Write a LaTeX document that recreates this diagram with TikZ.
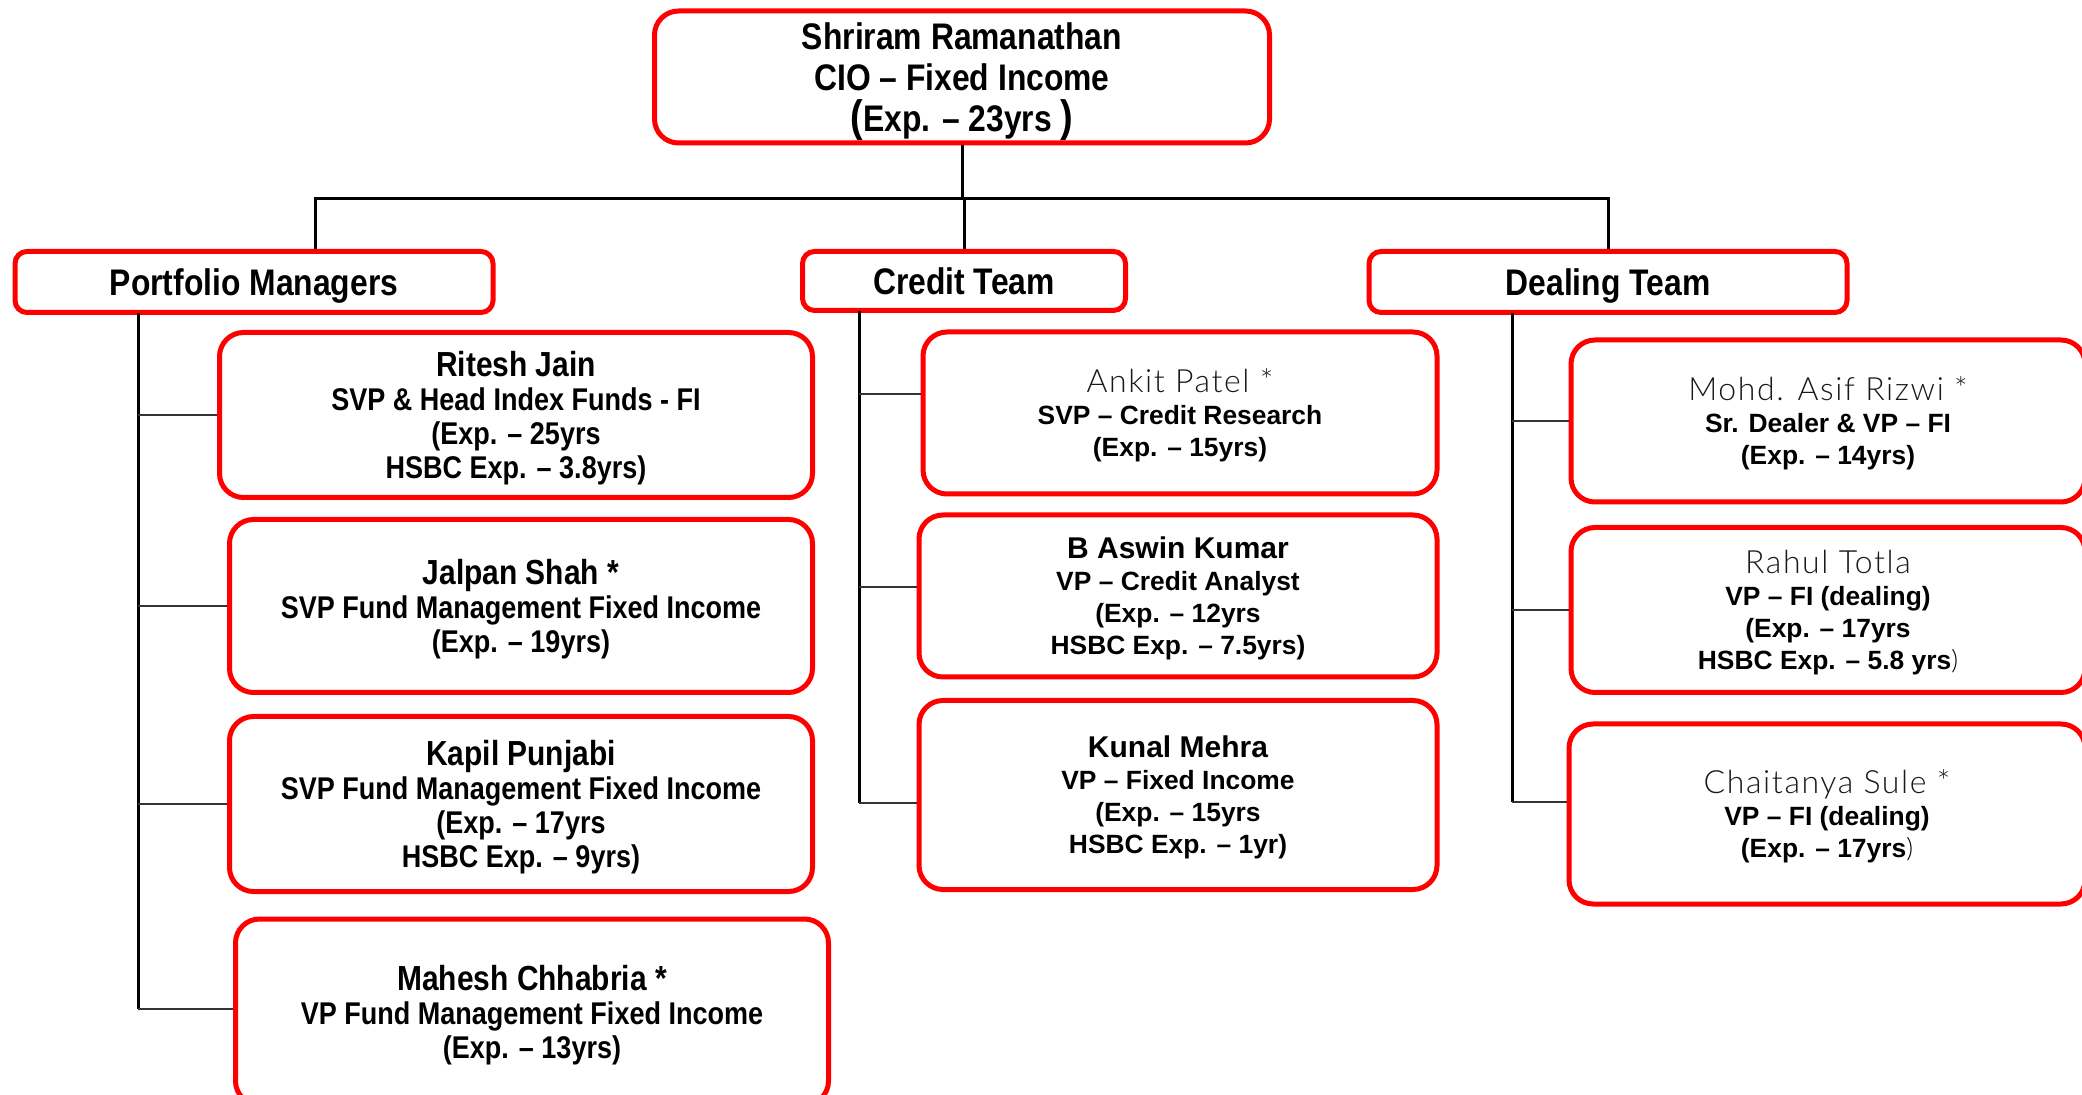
\documentclass[tikz,border=0pt]{standalone}
\usepackage{fontspec}
\setmainfont{Liberation Sans}
\newfontfamily\narrowfont{Liberation Sans}[FakeStretch=0.86]
\IfFontExistsTF{Lato Light}
  {\newfontfamily\lightfont{Lato Light}[LetterSpace=5]}
  {\newfontfamily\lightfont{Liberation Sans}[LetterSpace=5]}

\tikzset{
  box/.style={draw=red, line width=2.5pt, rounded corners=12pt, fill=white, align=center, inner sep=0pt},
  head/.style={draw=red, line width=2.5pt, rounded corners=6pt, fill=white, inner sep=0pt,
    text height=13.2pt, text depth=0pt, font=\narrowfont\bfseries\fontsize{18.5}{20.5}\selectfont},
  narrowtxt/.style={text depth=-2.5pt, font=\narrowfont\bfseries\fontsize{15.7}{17}\selectfont},
  widetxt/.style={text depth=-1.8pt, font=\bfseries\fontsize{13.2}{16}\selectfont},
  trunk/.style={black, line width=1.5pt},
  twig/.style={black!80, line width=0.9pt},
}
\newcommand{\lightname}[1]{{\mdseries\lightfont\color{black!90}\fontsize{16}{18.5}\selectfont #1}}

\begin{document}
\begin{tikzpicture}[x=0.5pt,y=-0.5pt]
\fill[white] (0,0) rectangle (2082,1095);
\useasboundingbox (0,0) rectangle (2082,1095);

% head of the desk
\node[box, minimum width=307.5pt, minimum height=66pt, text depth=-1pt, font=\narrowfont\bfseries\fontsize{18.5}{20.5}\selectfont] (cio) at (962,77)
  {Shriram Ramanathan\\CIO – Fixed Income\\{\fontsize{22}{20}\selectfont(}Exp. – 23yrs {\fontsize{22}{20}\selectfont)}};

% teams
\node[head, minimum width=239pt, minimum height=30.5pt] (pm) at (254,282) {Portfolio Managers};
\node[head, minimum width=161.5pt, minimum height=29.5pt] (ct) at (964,281) {Credit Team};
\node[head, minimum width=239pt, minimum height=30.5pt] (dt) at (1608,282) {Dealing Team};

% portfolio managers
\node[box, narrowtxt, minimum width=296.5pt, minimum height=82.5pt, text depth=-1pt] (ritesh) at (516,415)
  {{\fontsize{17.4}{19}\selectfont Ritesh Jain}\\SVP \& Head Index Funds - FI\\(Exp. – 25yrs\\HSBC Exp. – 3.8yrs)};
\node[box, narrowtxt, minimum width=291.5pt, minimum height=86.5pt, text depth=-3.3pt] (jalpan) at (521,606)
  {{\fontsize{17.4}{19}\selectfont Jalpan Shah *}\\SVP Fund Management Fixed Income\\(Exp. – 19yrs)};
\node[box, narrowtxt, minimum width=291.5pt, minimum height=87.5pt, text depth=-3.3pt] (kapil) at (521,804)
  {{\fontsize{17.4}{19}\selectfont Kapil Punjabi}\\SVP Fund Management Fixed Income\\(Exp. – 17yrs\\HSBC Exp. – 9yrs)};
\node[box, narrowtxt, minimum width=296.5pt, minimum height=93pt] (mahesh) at (532,1012)
  {{\fontsize{17.4}{19}\selectfont Mahesh Chhabria *}\\VP Fund Management Fixed Income\\(Exp. – 13yrs)};

% credit team
\node[box, widetxt, minimum width=257pt, minimum height=81pt] (ankit) at (1180,413)
  {\lightname{Ankit Patel *}\\SVP – Credit Research\\(Exp. – 15yrs)};
\node[box, widetxt, minimum width=259pt, minimum height=81pt] (aswin) at (1178,596)
  {{\fontsize{15}{18}\selectfont B Aswin Kumar}\\VP – Credit Analyst\\(Exp. – 12yrs\\HSBC Exp. – 7.5yrs)};
\node[box, widetxt, minimum width=259pt, minimum height=94.5pt] (kunal) at (1178,795)
  {{\fontsize{15}{18}\selectfont Kunal Mehra}\\VP – Fixed Income\\(Exp. – 15yrs\\HSBC Exp. – 1yr)};

% dealing team
\node[box, widetxt, minimum width=257pt, minimum height=81pt] (mohd) at (1828,421)
  {\lightname{Mohd. Asif Rizwi *}\\Sr. Dealer \& VP – FI\\(Exp. – 14yrs)};
\node[box, widetxt, minimum width=257pt, minimum height=82.5pt] (rahul) at (1828,610)
  {\lightname{Rahul Totla}\\VP – FI (dealing)\\(Exp. – 17yrs\\HSBC Exp. – 5.8 yrs{\mdseries\lightfont )}};
\node[box, widetxt, minimum width=258pt, minimum height=90pt] (chait) at (1827,814)
  {\lightname{Chaitanya Sule *}\\VP – FI (dealing)\\(Exp. – 17yrs{\mdseries\lightfont )}};

% bus from the head to the teams
\coordinate (bus) at (962,199);
\coordinate (pmdrop) at (315,199);
\draw[trunk] (cio.south) -- (cio.south |- bus);
\draw[trunk] (pmdrop |- pm.north) -- (pmdrop) -- (dt.north |- pmdrop) -- (dt.north);
\draw[trunk] (ct.north |- bus) -- (ct.north);

% where the branches meet the boxes
\coordinate (maheshin) at ([yshift=1.5pt]mahesh.west);
\coordinate (ankitin) at ([yshift=9.5pt]ankit.west);
\coordinate (aswinin) at ([yshift=4.5pt]aswin.west);
\coordinate (kunalin) at ([yshift=-4pt]kunal.west);
\coordinate (chaitin) at ([yshift=6pt]chait.west);

% trunks down each team
\coordinate (pmtrunk) at (138,313);
\coordinate (cttrunk) at (859,311);
\coordinate (dttrunk) at (1512,313);
\draw[trunk] (pmtrunk) -- (pmtrunk |- maheshin);
\draw[trunk] (cttrunk) -- (cttrunk |- kunalin);
\draw[trunk] (dttrunk) -- (dttrunk |- chaitin);

\draw[twig] (pmtrunk |- ritesh.west) -- (ritesh.west);
\draw[twig] (pmtrunk |- jalpan.west) -- (jalpan.west);
\draw[twig] (pmtrunk |- kapil.west) -- (kapil.west);
\draw[twig] (pmtrunk |- maheshin) -- (maheshin);

\draw[twig] (cttrunk |- ankitin) -- (ankitin);
\draw[twig] (cttrunk |- aswinin) -- (aswinin);
\draw[twig] (cttrunk |- kunalin) -- (kunalin);

\draw[twig] (dttrunk |- mohd.west) -- (mohd.west);
\draw[twig] (dttrunk |- rahul.west) -- (rahul.west);
\draw[twig] (dttrunk |- chaitin) -- (chaitin);

\end{tikzpicture}
\end{document}
